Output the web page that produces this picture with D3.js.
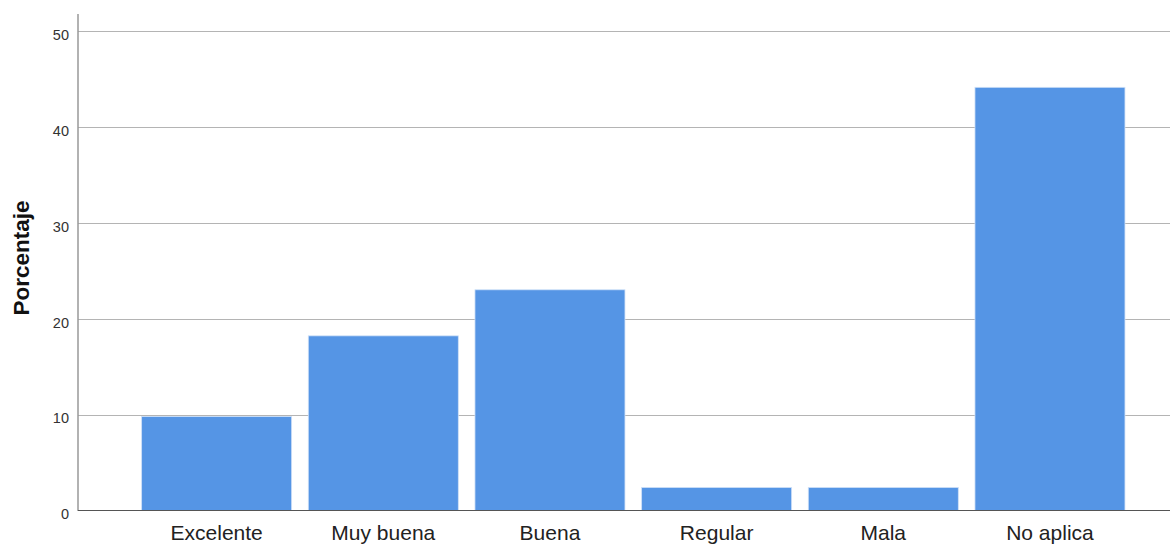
<!DOCTYPE html>
<html><head><meta charset="utf-8">
<script src="https://cdn.jsdelivr.net/npm/d3@7"></script>
<style>body{margin:0;background:#fff}svg{display:block}</style>
</head><body>
<script>
const categories = ["Excelente","Muy buena","Buena","Regular","Mala","No aplica"];
const values = [9.8, 18.2, 23.0, 2.4, 2.4, 44.1];
const yTicks = [0,10,20,30,40,50];

const W=1170,H=545;
const FONT="Arial, 'Liberation Sans', sans-serif";
const svg=d3.select("body").append("svg").attr("width",W).attr("height",H);
const x=d3.scaleBand().domain(categories).range([133.3,1133.3]).paddingInner(0.1).paddingOuter(0.05);
const y=d3.scaleLinear().domain([0,50]).range([510.5,30.7]);

// gridlines
svg.append("g").selectAll("line").data(yTicks.filter(d=>d>0)).join("line")
  .attr("x1",78).attr("x2",W).attr("y1",d=>Math.round(y(d))+0.5).attr("y2",d=>Math.round(y(d))+0.5)
  .attr("stroke","#b4b4b4").attr("stroke-width",1.2);

// bars
svg.append("g").selectAll("rect").data(values).join("rect")
  .attr("x",(d,i)=>x(categories[i])).attr("width",x.bandwidth())
  .attr("y",d=>y(d)).attr("height",d=>y(0)-y(d))
  .attr("fill","#5595e5").attr("stroke","#cfe0f7").attr("stroke-width",0.8);

// y axis
const ya=svg.append("g").attr("transform","translate(78,0)").call(d3.axisLeft(y).tickValues(yTicks).tickSize(0).tickPadding(9));
ya.select(".domain").remove();
ya.selectAll("text").attr("font-family",FONT).attr("font-size",14.5).attr("fill","#333").attr("dy","0.58em");
svg.append("line").attr("x1",78).attr("x2",78).attr("y1",14).attr("y2",511).attr("stroke","#999").attr("stroke-width",1.5);

// x axis
const xa=svg.append("g").attr("transform","translate(0,511)").call(d3.axisBottom(x).tickSize(0).tickPadding(0));
xa.select(".domain").remove();
xa.selectAll("text").attr("font-family",FONT).attr("font-size",21).attr("fill","#222").attr("dy",0).attr("y",28.8);
svg.append("line").attr("x1",78).attr("x2",W).attr("y1",510.5).attr("y2",510.5).attr("stroke","#555").attr("stroke-width",1.2);

// y title
svg.append("text").attr("transform","translate(28.5,258) rotate(-90)").attr("text-anchor","middle")
  .attr("font-family",FONT).attr("font-weight","bold").attr("font-size",22.5).attr("fill","#111").text("Porcentaje");
</script>
</body></html>
